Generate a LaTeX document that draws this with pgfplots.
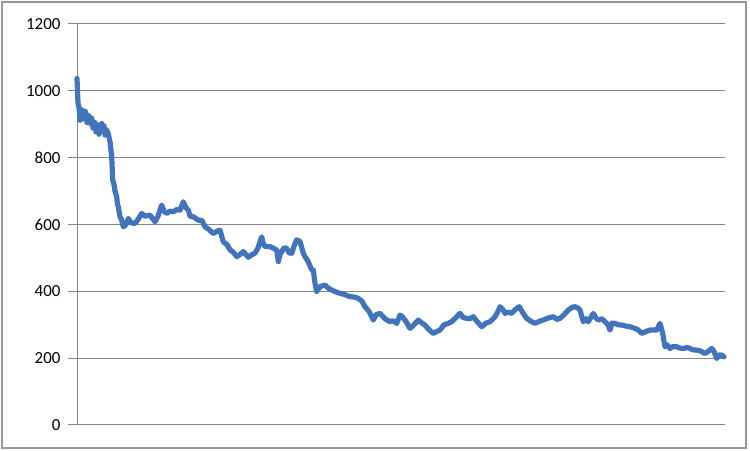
\documentclass[border=0pt]{standalone}
\usepackage{pgfplots}
\pgfplotsset{compat=1.18}
\usepackage{fontspec}
\setmainfont{Carlito}
\definecolor{ser}{RGB}{66,116,190}
\definecolor{gridc}{RGB}{134,134,134}
\definecolor{framec}{RGB}{150,150,160}
\begin{document}
\begin{tikzpicture}[x=1bp,y=1bp]
\path[use as bounding box] (0,0) rectangle (750,451);
\draw[framec, line width=1.2bp] (2,3) rectangle (746,449);
\begin{axis}[
  at={(77bp,26bp)}, anchor=south west,
  scale only axis, width=648bp, height=401bp,
  xmin=77, xmax=725, ymin=0, ymax=1200,
  axis x line*=bottom, axis y line*=left,
  xtick=\empty,
  ytick={0,200,400,600,800,1000,1200},
  ymajorgrids, grid style={gridc, line width=1bp},
  axis line style={gridc, line width=1bp},
  tick style={gridc, line width=1bp},
  tick align=outside, major tick length=9bp,
  yticklabel style={font=\fontsize{17}{19}\selectfont, xshift=-4bp},
  /pgf/number format/assume math mode=true,
  /pgf/number format/1000 sep={},
  clip=false,
]
\addplot[ser, line width=5.2bp, line join=round, line cap=round] coordinates {
(77,1037)(78,963)(79,950)(80,912)(81,945)(82,940)(83,915)(84,920)(85,940)(86,932)(87,905)(88,905)(89,925)(90,903)(91,920)(92,915)(93,888)(94,890)(95,905)(96,877)(97,900)(98,895)(99,870)(100,885)(101.7,902)(103,880)(104,895)(105,868)(106,885)(108,874)(110,848)(111.7,803)(112.7,733)(114,720)(115,700)(116.7,683)(117.5,660)(118.3,653)(119,640)(120,623)(121.5,615)(123.3,593)(126,600)(128.3,618)(131,605)(135,603)(138,615)(141.7,633)(145,625)(150,628)(152,620)(155,608)(158,625)(161.7,658)(164,640)(166.7,633)(170,640)(173.3,638)(177,645)(180,643)(183.3,668)(186,650)(188.3,643)(190,625)(193.3,623)(198.3,613)(202,612)(205,593)(209,585)(213.3,573)(217,580)(220,583)(223.3,548)(227,540)(230,524)(233,518)(236.7,504)(240,510)(243.3,519)(246,510)(248.3,502)(252,510)(255,514)(258,530)(261.7,563)(263,545)(265,534)(270,534)(274,528)(276.7,524)(278.3,489)(280,510)(281.7,519)(284,530)(286.7,529)(289,515)(291.7,514)(294,535)(296.7,554)(300,549)(303.3,514)(305,504)(308,490)(311.7,464)(313.3,464)(315,424)(316.7,399)(320,414)(325,419)(328,410)(331.7,404)(336,398)(340,394)(345,390)(350,384)(354,383)(358.3,379)(362,370)(365,354)(369,340)(373.3,314)(376,330)(380,334)(385,318)(390,309)(393,312)(396.7,304)(400,329)(402,325)(405,314)(408,300)(410,289)(414,300)(418.3,314)(422,305)(425,299)(429,285)(433.3,274)(437,280)(440,284)(444,300)(448.3,304)(452,310)(456.7,324)(460,334)(463,322)(466.7,319)(470,318)(473.3,324)(477,310)(481.7,294)(486,305)(490,309)(495,324)(498,340)(500,354)(503,345)(505,334)(508,338)(511.7,334)(515,345)(519.3,354)(523,335)(526.7,319)(531,310)(535,304)(539,310)(543.3,314)(548,320)(553.3,324)(557,316)(560,319)(564,330)(568.3,344)(572,352)(575,354)(578,350)(580,344)(583.3,309)(586,318)(588.3,309)(593.3,334)(596,320)(598.3,314)(602,318)(605,309)(608,300)(610,284)(612,305)(615,304)(618,300)(621.7,299)(626,296)(630,294)(635,289)(638,285)(641.7,274)(646,280)(650,284)(656.7,284)(660,304)(662.7,274)(664,250)(665,234)(667,240)(670,229)(673,235)(676.7,234)(680,230)(683.3,229)(687,232)(690,229)(693,225)(696.7,224)(700,222)(705,214)(708,220)(711.7,229)(714,220)(716.7,199)(719,210)(721.7,209)(724,204)
};
\end{axis}
\end{tikzpicture}
\end{document}
